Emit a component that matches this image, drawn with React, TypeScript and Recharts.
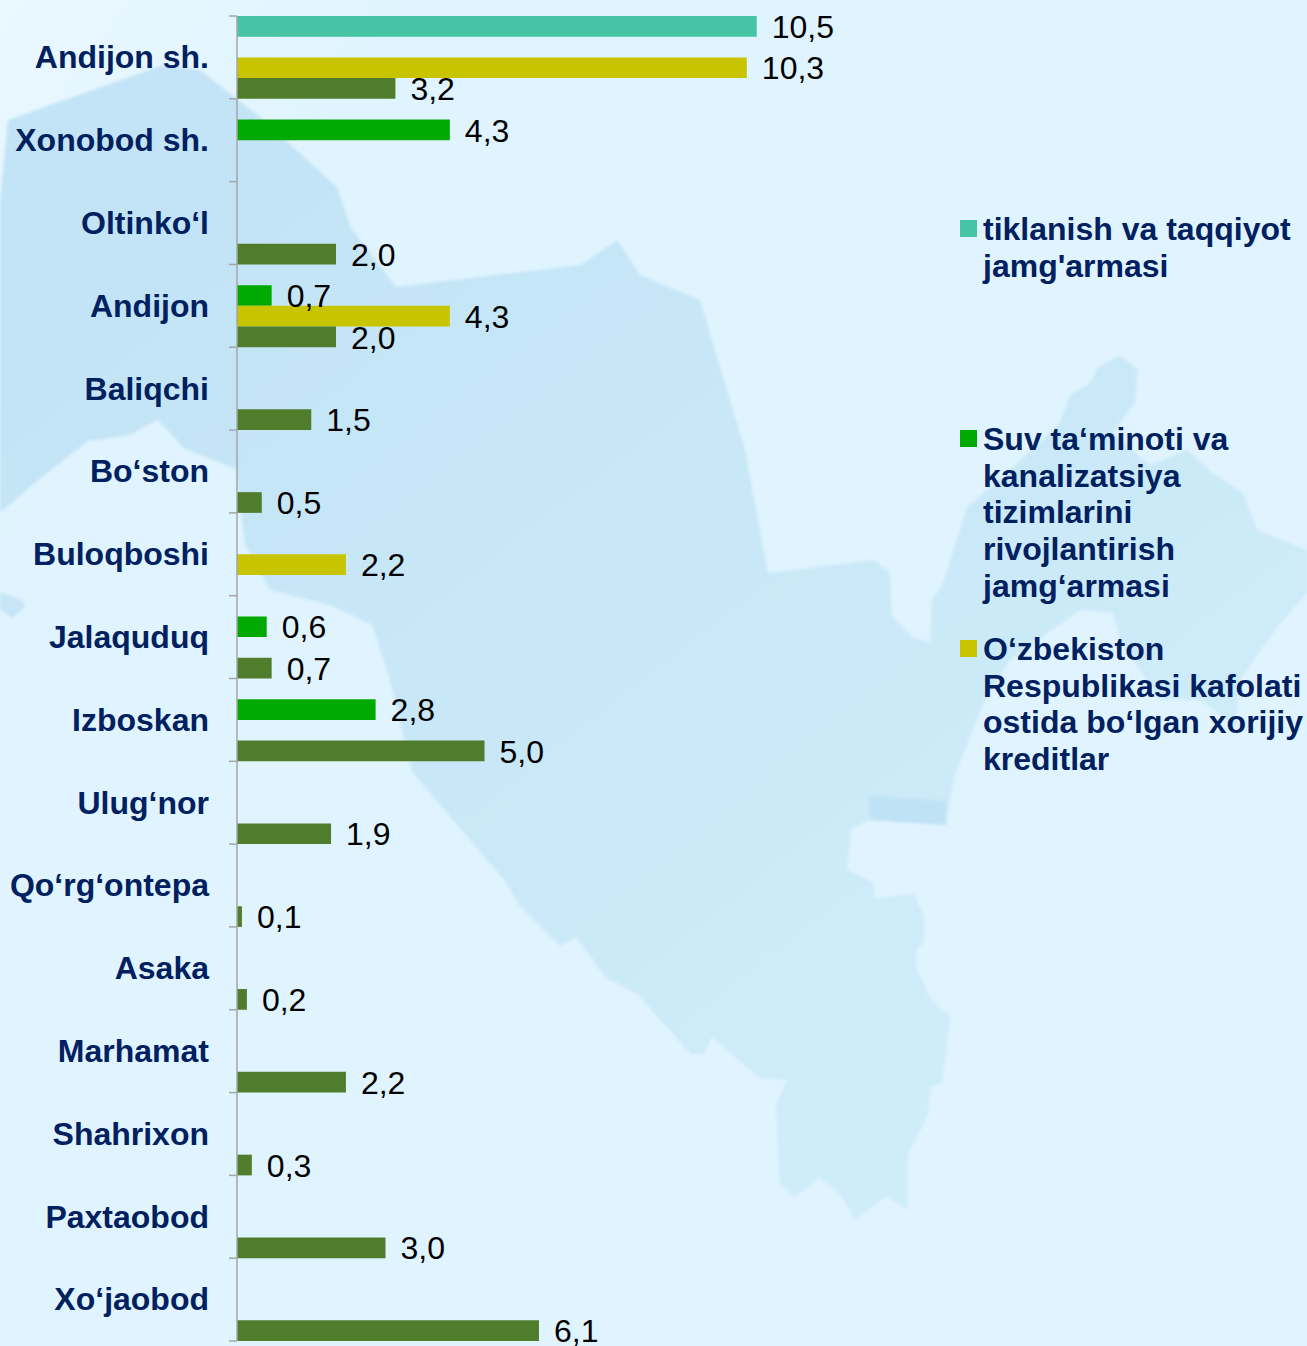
import { BarChart, Bar, XAxis, YAxis, LabelList, Legend } from "recharts";

const districts = [
  "Andijon sh.", "Xonobod sh.", "Oltinko‘l", "Andijon", "Baliqchi", "Bo‘ston", "Buloqboshi", "Jalaquduq",
  "Izboskan", "Ulug‘nor", "Qo‘rg‘ontepa", "Asaka", "Marhamat", "Shahrixon", "Paxtaobod", "Xo‘jaobod",
];
const recovery = [10.5, null, null, null, null, null, null, null, null, null, null, null, null, null, null, null];
const water = [null, 4.3, null, 0.7, null, null, null, 0.6, 2.8, null, null, null, null, null, null, null];
const foreign = [10.3, null, null, 4.3, null, null, 2.2, null, null, null, null, null, null, null, null, null];
const other = [3.2, null, 2.0, 2.0, 1.5, 0.5, null, 0.7, 5.0, 1.9, 0.1, 0.2, 2.2, 0.3, 3.0, 6.1];

// tick marks sit between the bands; this axis runs over the row indexes 0..15, so 17 marks need steps of 15/16
const bandTicks = [0, 1, 2, 3, 4, 5, 6, 7, 8, 9, 10, 11, 12, 13, 14, 15, 16].map((i) => (i * 15) / 16);

const data = districts.map((name, i) => ({
  name,
  recovery: recovery[i],
  water: water[i],
  foreign: foreign[i],
  other: other[i],
}));

const FONT = '"Liberation Sans", Arial, sans-serif';
const NAVY = "#002060";

const fmt = (v: any) => (v == null ? "" : Number(v).toFixed(1).replace(".", ","));

// background silhouette of the region, not data
const mapMain =
  "0,200 8,120 163,65 200,70 260,117 337,187 351,228 396,287 581,265 617,240 640,275 700,300 745,450 768,573 874,560 890,573 892,616 914,638 930,642 932,599 942,586 967,507 1010,470 1060,423 1070,395 1090,383 1097,368 1120,355 1138,370 1135,403 1113,433 1150,465 1187,450 1213,473 1243,493 1257,530 1307,550 1307,593 1277,627 1240,680 1235,725 1200,700 1160,700 1120,640 1113,613 1080,610 1010,660 985,700 954,777 946,825 870,820 851,829 847,870 874,883 874,898 914,894 924,916 924,942 916,950 916,968 930,998 950,1017 942,1083 930,1087 928,1115 908,1154 908,1210 886,1197 855,1219 839,1193 819,1178 795,1197 780,1184 776,1106 787,1080 760,1078 712,1037 704,1054 691,1054 637,994 606,978 576,937 560,946 519,905 505,881 412,772 390,680 372,625 330,605 270,590 245,545 236,469 185,449 158,420 130,435 88,441 42,477 0,513";

function MapBackground() {
  return (
    <svg width={1307} height={1346} style={{ position: "absolute", left: 0, top: 0 }}>
      <defs>
        <linearGradient id="sky" x1="0" y1="0" x2="0.2" y2="0.15">
          <stop offset="0" stopColor="#EAF8FF" />
          <stop offset="1" stopColor="#E0F4FF" />
        </linearGradient>
        <linearGradient id="land" gradientUnits="userSpaceOnUse" x1="300" y1="200" x2="1000" y2="1100">
          <stop offset="0" stopColor="#C3E4F6" />
          <stop offset="1" stopColor="#CFECF9" />
        </linearGradient>
        <filter id="soft">
          <feGaussianBlur stdDeviation="1.5" />
        </filter>
      </defs>
      <rect width={1307} height={1346} fill="url(#sky)" />
      <g filter="url(#soft)">
        <polygon points={mapMain} fill="url(#land)" />
        <polygon points="0,592 22,600 25,607 12,618 0,610" fill="#C6E5F6" />
        <polygon points="870,796 946,801 946,825 870,820" fill="#BFE2F5" />
      </g>
    </svg>
  );
}

function LegendBox({ payload }: any) {
  return (
    <div>
      {(payload || [])
        .filter((p: any) => p.type !== "none")
        .map((p: any) => (
          <div key={p.value} style={{ position: "relative", height: 210, paddingLeft: 23 }}>
            <span style={{ position: "absolute", left: 0, top: 9, width: 17, height: 17, background: p.color }} />
            <div style={{ fontFamily: FONT, fontWeight: 700, fontSize: 32, lineHeight: "36.7px", color: NAVY }}>
              {p.value}
            </div>
          </div>
        ))}
    </div>
  );
}

// own tick so that "Andijon sh." stays on one line
function DistrictTick({ x, y, payload }: any) {
  return (
    <text
      x={x}
      y={y - 0.5}
      dy="0.355em"
      textAnchor="end"
      fontFamily={FONT}
      fontWeight={700}
      fontSize={32}
      fill={NAVY}
    >
      {payload.value}
    </text>
  );
}

const labelStyle = { fontFamily: FONT, fontSize: 32, fill: "#000" };

const series = [
  { key: "recovery", color: "#47C3A6", name: "tiklanish va taqqiyot jamg'armasi" },
  { key: "water", color: "#00AA00", name: "Suv ta‘minoti va kanalizatsiya tizimlarini rivojlantirish jamg‘armasi" },
  { key: "foreign", color: "#C8C400", name: "O‘zbekiston Respublikasi kafolati ostida bo‘lgan xorijiy kreditlar" },
  { key: "other", color: "#4F7D2B", name: "boshqa" },
];

export default function App() {
  return (
    <div style={{ position: "absolute", left: 0, top: 0, width: 1307, height: 1346, overflow: "hidden" }}>
      <MapBackground />
      <BarChart
        width={1307}
        height={1346}
        data={data}
        layout="vertical"
        barGap={0}
        barCategoryGap={0}
        margin={{ top: 16, right: 476, bottom: 5, left: 235 }}
      >
        <XAxis type="number" domain={[0, 12]} hide />
        <YAxis
          yAxisId="bands"
          type="number"
          domain={[0, 15]}
          reversed
          ticks={bandTicks}
          interval={0}
          width={1}
          tick={() => <g />}
          tickSize={8}
          stroke="#A6A6A6"
          strokeWidth={1.5}
        />
        <YAxis
          yAxisId="cat"
          type="category"
          dataKey="name"
          width={1}
          interval={0}
          axisLine={false}
          tickLine={false}
          tickSize={0}
          tickMargin={27}
          tick={<DistrictTick />}
        />
        <Legend
          layout="horizontal"
          verticalAlign="middle"
          itemSorter={null}
          content={<LegendBox />}
          wrapperStyle={{ left: 960, top: 211, width: 345 }}
        />
        {series.map((s) => (
          <Bar
            key={s.key}
            yAxisId="cat"
            dataKey={s.key}
            name={s.name}
            fill={s.color}
            barSize={20.7}
            legendType={s.key === "other" ? "none" : "square"}
            isAnimationActive={false}
          >
            <LabelList dataKey={s.key} position="right" offset={15} dy={0.3} formatter={fmt} style={labelStyle} />
          </Bar>
        ))}
      </BarChart>
    </div>
  );
}
